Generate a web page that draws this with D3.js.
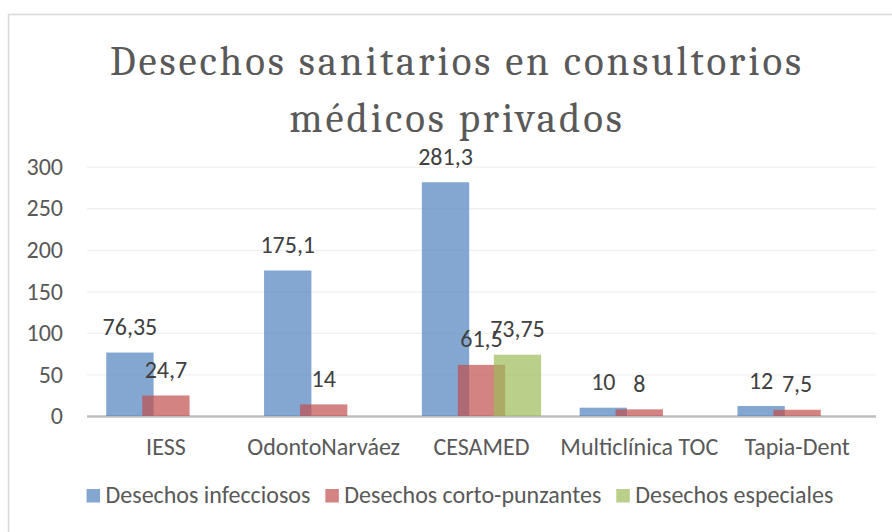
<!DOCTYPE html>
<html>
<head>
<meta charset="utf-8">
<script src="https://cdn.jsdelivr.net/npm/d3@7"></script>
<style>
  body { margin: 0; background: #fff; }
  svg { display: block; }
  .axis path { display: none; }
  .axis text { fill: #595959; font-family: Carlito, "Open Sans", sans-serif; }
</style>
</head>
<body>
<svg id="chart" width="892" height="532"></svg>
<script>
// datos
const categories = ["IESS", "OdontoNarváez", "CESAMED", "Multiclínica TOC", "Tapia-Dent"];
const seriesNames = ["Desechos infecciosos", "Desechos corto-punzantes", "Desechos especiales"];
const infecciosos = [76.35, 175.1, 281.3, 10, 12];
const cortoPunzantes = [24.7, 14, 61.5, 8, 7.5];
const especiales = [null, null, 73.75, null, null];
const valueLabels = [
  ["76,35", "175,1", "281,3", "10", "12"],
  ["24,7", "14", "61,5", "8", "7,5"],
  [null, null, "73,75", null, null]
];
const yTicks = [0, 50, 100, 150, 200, 250, 300];
const colors = ["#4F81BD", "#C0504D", "#9BBB59"];

const series = [infecciosos, cortoPunzantes, especiales];

const svg = d3.select("#chart");
const padding = { top: 166.7, right: 16, bottom: 116, left: 87 };
const width = 892;
const height = 532;

// marco del grafico
svg.append("rect")
  .attr("x", 8.5).attr("y", 14.5)
  .attr("width", 900).attr("height", 540)
  .attr("fill", "#fff")
  .attr("stroke", "#d9d9d9")
  .attr("stroke-width", 1.5);

// titulo
const title = svg.append("text")
  .attr("text-anchor", "middle")
  .attr("fill", "#595959")
  .style("font-family", "Cambria, Caladea, 'Liberation Serif', serif")
  .style("font-size", "41px")
  .style("letter-spacing", "2.9px");
title.append("tspan").attr("x", 457).attr("y", 75).text("Desechos sanitarios en consultorios");
title.append("tspan").attr("x", 457).attr("y", 131.5).text("médicos privados");

const xScale = d3.scaleBand()
  .domain(categories)
  .range([padding.left, width - padding.right]);
const yScale = d3.scaleLinear()
  .domain([0, 300])
  .range([height - padding.bottom, padding.top]);

// series se solapan como en Excel
const barWidth = xScale.bandwidth() * 0.3;
const offset = d3.scalePoint()
  .domain(seriesNames)
  .range([-barWidth * 0.76, barWidth * 0.76]);

// lineas de cuadricula y etiquetas eje y
const yAxis = d3.axisLeft(yScale)
  .tickValues(yTicks)
  .tickSize(-(width - padding.left - padding.right))
  .tickPadding(24);
const gy = svg.append("g")
  .attr("class", "axis")
  .attr("transform", "translate(" + padding.left + ",0)")
  .call(yAxis);
gy.selectAll("line").attr("stroke", "#f0f0f0").attr("stroke-width", 1.3);
gy.selectAll("text").style("font-size", "24px");

// eje x
svg.append("line")
  .attr("x1", padding.left).attr("x2", width - padding.right)
  .attr("y1", yScale(0) + 0.5).attr("y2", yScale(0) + 0.5)
  .attr("stroke", "#bfbfbf")
  .attr("stroke-width", 2.3);

const xAxis = d3.axisBottom(xScale).tickSize(0).tickPadding(0);
const gx = svg.append("g")
  .attr("class", "axis")
  .attr("transform", "translate(0," + yScale(0) + ")")
  .call(xAxis);
gx.selectAll("text")
  .attr("dy", null)
  .attr("y", 39)
  .style("font-size", "24px");

// barras
series.forEach((values, s) => {
  const data = values.map((v, i) => ({ cat: categories[i], v: v, label: valueLabels[s][i] }))
    .filter(d => d.v !== null);
  const g = svg.append("g");
  g.selectAll("rect")
    .data(data)
    .enter().append("rect")
    .attr("x", d => xScale(d.cat) + xScale.bandwidth() / 2 + offset(seriesNames[s]) - barWidth / 2)
    .attr("y", d => yScale(d.v))
    .attr("width", barWidth)
    .attr("height", d => yScale(0) - yScale(d.v))
    .attr("fill", colors[s])
    .attr("fill-opacity", 0.7);
});

// etiquetas de datos
series.forEach((values, s) => {
  const data = values.map((v, i) => ({ cat: categories[i], v: v, label: valueLabels[s][i] }))
    .filter(d => d.v !== null);
  svg.append("g").selectAll("text")
    .data(data)
    .enter().append("text")
    .attr("x", d => xScale(d.cat) + xScale.bandwidth() / 2 + offset(seriesNames[s]))
    .attr("y", d => yScale(d.v) - 17.5)
    .attr("text-anchor", "middle")
    .attr("fill", "#404040")
    .style("font-family", "Carlito, 'Open Sans', sans-serif")
    .style("font-size", "24px")
    .text(d => d.label);
});

// leyenda
const legend = svg.append("g");
let lx = 0;
seriesNames.forEach((name, i) => {
  const item = legend.append("g").attr("transform", "translate(" + lx + ",0)");
  item.append("rect")
    .attr("x", 0).attr("y", -13.5)
    .attr("width", 13.5).attr("height", 13.5)
    .attr("fill", colors[i])
    .attr("fill-opacity", 0.7);
  const t = item.append("text")
    .attr("x", 19).attr("y", 0)
    .attr("fill", "#595959")
    .style("font-family", "Carlito, 'Open Sans', sans-serif")
    .style("font-size", "24px")
    .text(name);
  lx += 19 + t.node().getComputedTextLength() + 15;
});
lx -= 15;
legend.attr("transform", "translate(" + (460 - lx / 2) + ",502.5)");
</script>
</body>
</html>
